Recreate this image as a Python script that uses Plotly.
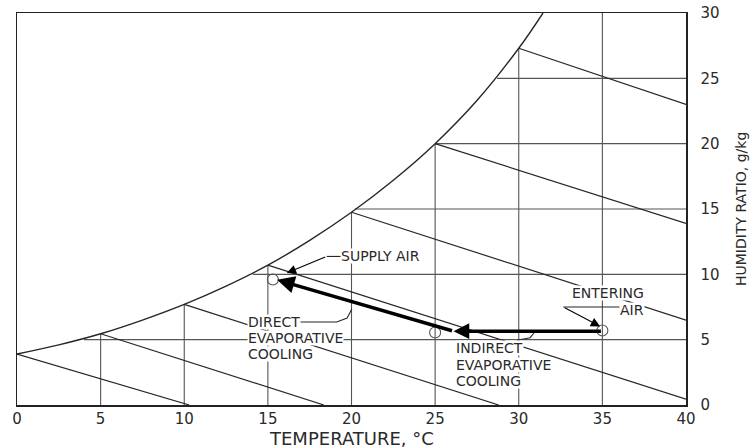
import plotly.graph_objects as go

# ---------------- data ----------------
# saturation curve (dry-bulb °C, humidity ratio g/kg)
sat_t = [0, 2.5, 5, 7.5, 10, 12.5, 15, 17.5, 20, 22.5, 25, 27.5, 30, 31.45]
sat_w = [3.9, 4.6, 5.45, 6.5, 7.7, 9.1, 10.7, 12.6, 14.75, 17.2, 20.0, 23.3, 27.3, 30.0]

# constant dry-bulb lines (vertical), drawn from 0 up to the saturation curve
db_t = [5, 10, 15, 20, 25, 30, 35]
db_top = [5.45, 7.7, 10.7, 14.75, 20.0, 27.3, 30.0]

# constant humidity-ratio lines (horizontal), from the curve to 40 °C
hr_w = [5, 10, 15, 20, 25]
hr_start = [4.0, 14.1, 20.2, 25.0, 28.7]

# constant wet-bulb lines (start on curve, end at axis / right edge)
wb_t0 = [0, 5, 10, 15, 20, 25, 30]
wb_w0 = [3.9, 5.45, 7.7, 10.7, 14.75, 20.0, 27.3]
wb_t1 = [10.3, 18.35, 28.8, 40, 40, 40, 40]
wb_w1 = [0, 0, 0, 0.45, 6.5, 13.9, 23.0]

# process state points: entering air, after indirect, supply air
state_t = [35, 25, 15.3]
state_w = [5.7, 5.55, 9.6]

# process arrows (start -> tip)
indirect_t = [35, 26.1]
indirect_w = [5.65, 5.65]
direct_t = [26.1, 15.55]
direct_w = [5.65, 9.58]

# leader lines
supply_lead_t = [19.4, 18.52]
supply_lead_w = [11.37, 11.37]
supply_tip = (16.13, 10.1)
enter_lead_t = [36.5, 32.66]
enter_lead_w = [7.5, 7.5]
enter_tip = (34.87, 6.01)
direct_lead_t = [16.6, 19.12, 19.74, 20.02]
direct_lead_w = [6.35, 6.35, 6.65, 7.35]
indirect_lead_t = [29.9, 30.68, 30.92]
indirect_lead_w = [4.95, 5.15, 5.53]

# annotation labels: text, x (°C), y (g/kg), anchor side
label_text = ["SUPPLY AIR", "ENTERING", "AIR",
              "DIRECT", "EVAPORATIVE", "COOLING",
              "INDIRECT", "EVAPORATIVE", "COOLING"]
label_x = [19.32, 37.56, 37.56, 13.76, 13.76, 13.76, 26.2, 26.2, 26.2]
label_y = [11.37, 8.56, 7.30, 6.39, 5.13, 3.87, 4.34, 3.08, 1.82]
label_anchor = ["left", "right", "right", "left", "left", "left",
                "left", "left", "left"]

x_ticks = [0, 5, 10, 15, 20, 25, 30, 35, 40]
y_ticks = [0, 5, 10, 15, 20, 25, 30]

FONT = "DejaVu Sans"
LINE = "#262626"
GRID = "#555555"
TXT = "#2a2a2a"

fig = go.Figure()

def add_line(xs, ys, color=LINE, width=1.2, shape="linear"):
    fig.add_trace(go.Scatter(x=xs, y=ys, mode="lines",
                             line=dict(color=color, width=width, shape=shape),
                             hoverinfo="skip", showlegend=False))

for t, top in zip(db_t, db_top):
    add_line([t, t], [0, top], GRID, 1.1)
for w, s in zip(hr_w, hr_start):
    add_line([s, 40], [w, w], GRID, 1.1)
for a, b, c, d in zip(wb_t0, wb_w0, wb_t1, wb_w1):
    add_line([a, c], [b, d], LINE, 1.2)
add_line(sat_t, sat_w, LINE, 1.4, "spline")

# leader lines
add_line(supply_lead_t, supply_lead_w, LINE, 1.1)
add_line(enter_lead_t, enter_lead_w, LINE, 1.1)
add_line(direct_lead_t, direct_lead_w, LINE, 1.1)
add_line(indirect_lead_t, indirect_lead_w, LINE, 1.1)

# state circles
fig.add_trace(go.Scatter(x=state_t, y=state_w, mode="markers",
                         marker=dict(symbol="circle-open", size=11, color="#555",
                                     line=dict(color="#555", width=1.1)),
                         hoverinfo="skip", showlegend=False))

annotations = []

def arrow(x0, y0, x1, y1, width, size):
    annotations.append(dict(x=x1, y=y1, ax=x0, ay=y0, xref="x", yref="y",
                            axref="x", ayref="y", text="", showarrow=True,
                            arrowhead=2, arrowwidth=width, arrowsize=size,
                            arrowcolor="black", standoff=0, startstandoff=0))

arrow(indirect_t[0], indirect_w[0], indirect_t[1], indirect_w[1], 3.5, 0.9)
arrow(direct_t[0], direct_w[0], direct_t[1], direct_w[1], 3.5, 1.0)
arrow(supply_lead_t[1], supply_lead_w[1], supply_tip[0], supply_tip[1], 1.1, 1.7)
arrow(enter_lead_t[1], enter_lead_w[1], enter_tip[0], enter_tip[1], 1.1, 1.7)

for txt, lx, ly, anc in zip(label_text, label_x, label_y, label_anchor):
    annotations.append(dict(x=lx, y=ly, xref="x", yref="y", text=txt,
                            showarrow=False, xanchor=anc, yanchor="middle",
                            bgcolor="white", borderpad=0, height=14,
                            valign="middle",
                            font=dict(family=FONT, size=14, color=TXT)))

W_FIG, H_FIG = 755, 448
ML, MT, MR, MB = 17, 13, 69, 43
plot_h = H_FIG - MT - MB
plot_w = W_FIG - ML - MR

# axis titles
annotations.append(dict(x=0.5, y=-(438 - 405) / plot_h, xref="paper", yref="paper",
                        text="TEMPERATURE, °C", showarrow=False,
                        xanchor="center", yanchor="middle",
                        font=dict(family=FONT, size=18, color=TXT)))
annotations.append(dict(x=1 + (741 - 686) / plot_w, y=0.5, xref="paper", yref="paper",
                        text="HUMIDITY RATIO, g/kg", showarrow=False,
                        textangle=-90, xanchor="center", yanchor="middle",
                        font=dict(family=FONT, size=14, color=TXT)))

fig.update_layout(
    width=W_FIG, height=H_FIG,
    margin=dict(l=ML, r=MR, t=MT, b=MB, autoexpand=False),
    paper_bgcolor="white", plot_bgcolor="white",
    font=dict(family=FONT, size=15, color=TXT),
    annotations=annotations,
    hovermode=False,
    xaxis=dict(range=[0, 40], tickvals=x_ticks, showgrid=False, zeroline=False,
               showline=True, linecolor="#222", linewidth=1.5, mirror=True,
               ticks="", ticklabelstandoff=-1, automargin=False,
               ticklabeloverflow="allow",
               tickfont=dict(family=FONT, size=15, color=TXT)),
    yaxis=dict(range=[0, 30], tickvals=y_ticks, side="right", showgrid=False,
               zeroline=False, showline=True, linecolor="#222", linewidth=1.5,
               mirror=True, ticks="", ticklabelstandoff=10, automargin=False,
               ticklabeloverflow="allow",
               tickfont=dict(family=FONT, size=15, color=TXT)),
)

# remove the default 8px page margin so the 755x448 canvas fills the window
fig.write_html("out.html",
               config={"displayModeBar": False, "staticPlot": True},
               post_script="document.body.style.margin='0';")
